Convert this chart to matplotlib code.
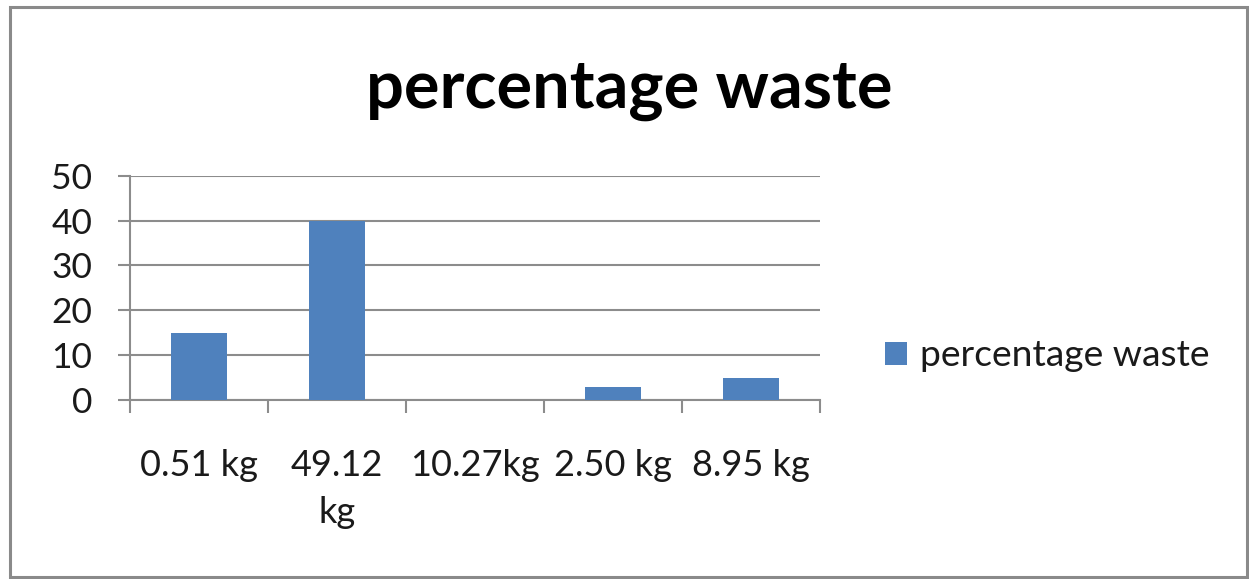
import matplotlib
matplotlib.use("Agg")
import matplotlib.pyplot as plt
from matplotlib.patches import Rectangle
import numpy as np

categories = ["0.51 kg", "49.12\nkg", "10.27kg", "2.50 kg", "8.95 kg"]
values = [15, 40, 0, 3, 5]
yticks = [0, 10, 20, 30, 40, 50]
series_name = "percentage waste"
title = "percentage waste"

BAR = "#4F81BD"
GRID = "#8C8C8C"
TEXT = "#1a1a1a"

plt.rcParams["font.family"] = ["Lato", "DejaVu Sans"]

W, H = 1249, 579
fig = plt.figure(figsize=(W / 100, H / 100), dpi=100)
fig.patch.set_facecolor("white")

# outer chart frame
fig.add_artist(Rectangle((9.5 / W, 1 - 577 / H), (1247 - 9.5) / W, (577 - 6.5) / H,
                         transform=fig.transFigure, fill=False,
                         edgecolor="#8A8A8A", linewidth=2.2, zorder=10))

ax = fig.add_axes([130 / W, 1 - 400 / H, (820 - 130) / W, (400 - 175.7) / H])
x = np.arange(len(categories))
bars = ax.bar(x, values, width=0.41, color=BAR, label=series_name, zorder=3)

ax.set_xlim(-0.5, len(categories) - 0.5)
ax.set_ylim(0, 50)
ax.set_yticks(yticks)
ax.set_yticklabels([str(v) for v in yticks])
ax.yaxis.grid(True, color=GRID, linewidth=1.5, zorder=0)
ax.set_axisbelow(True)

# category boundary ticks below the axis, labels at category centres
ax.set_xticks(np.arange(len(categories) + 1) - 0.5)
ax.set_xticklabels([])
ax.set_xticks(x, minor=True)
ax.set_xticklabels(categories, minor=True, fontsize=26, color=TEXT,
                   linespacing=1.55)
ax.tick_params(axis="x", which="major", direction="out", length=9.5,
               width=1.5, color=GRID)
ax.tick_params(axis="x", which="minor", length=0, pad=35)
ax.tick_params(axis="y", direction="out", length=8.6, width=1.5, color=GRID,
               labelsize=25.5, labelcolor=TEXT, pad=18.5)

for side in ("top", "right"):
    ax.spines[side].set_visible(False)
for side in ("left", "bottom"):
    ax.spines[side].set_color(GRID)
    ax.spines[side].set_linewidth(1.5)

fig.text(629.5 / W, 1 - 108 / H, title, ha="center", va="baseline",
         fontsize=48, fontweight="bold", color="black")

fig.legend(handles=[bars], labels=[series_name], loc="center left",
           bbox_to_anchor=(885 / W, 1 - 356 / H), frameon=False,
           fontsize=26.8, handlelength=0.6, handleheight=0.6,
           handletextpad=0.33, borderpad=0, borderaxespad=0,
           labelcolor=TEXT)

fig.savefig("out.png", dpi=100)
